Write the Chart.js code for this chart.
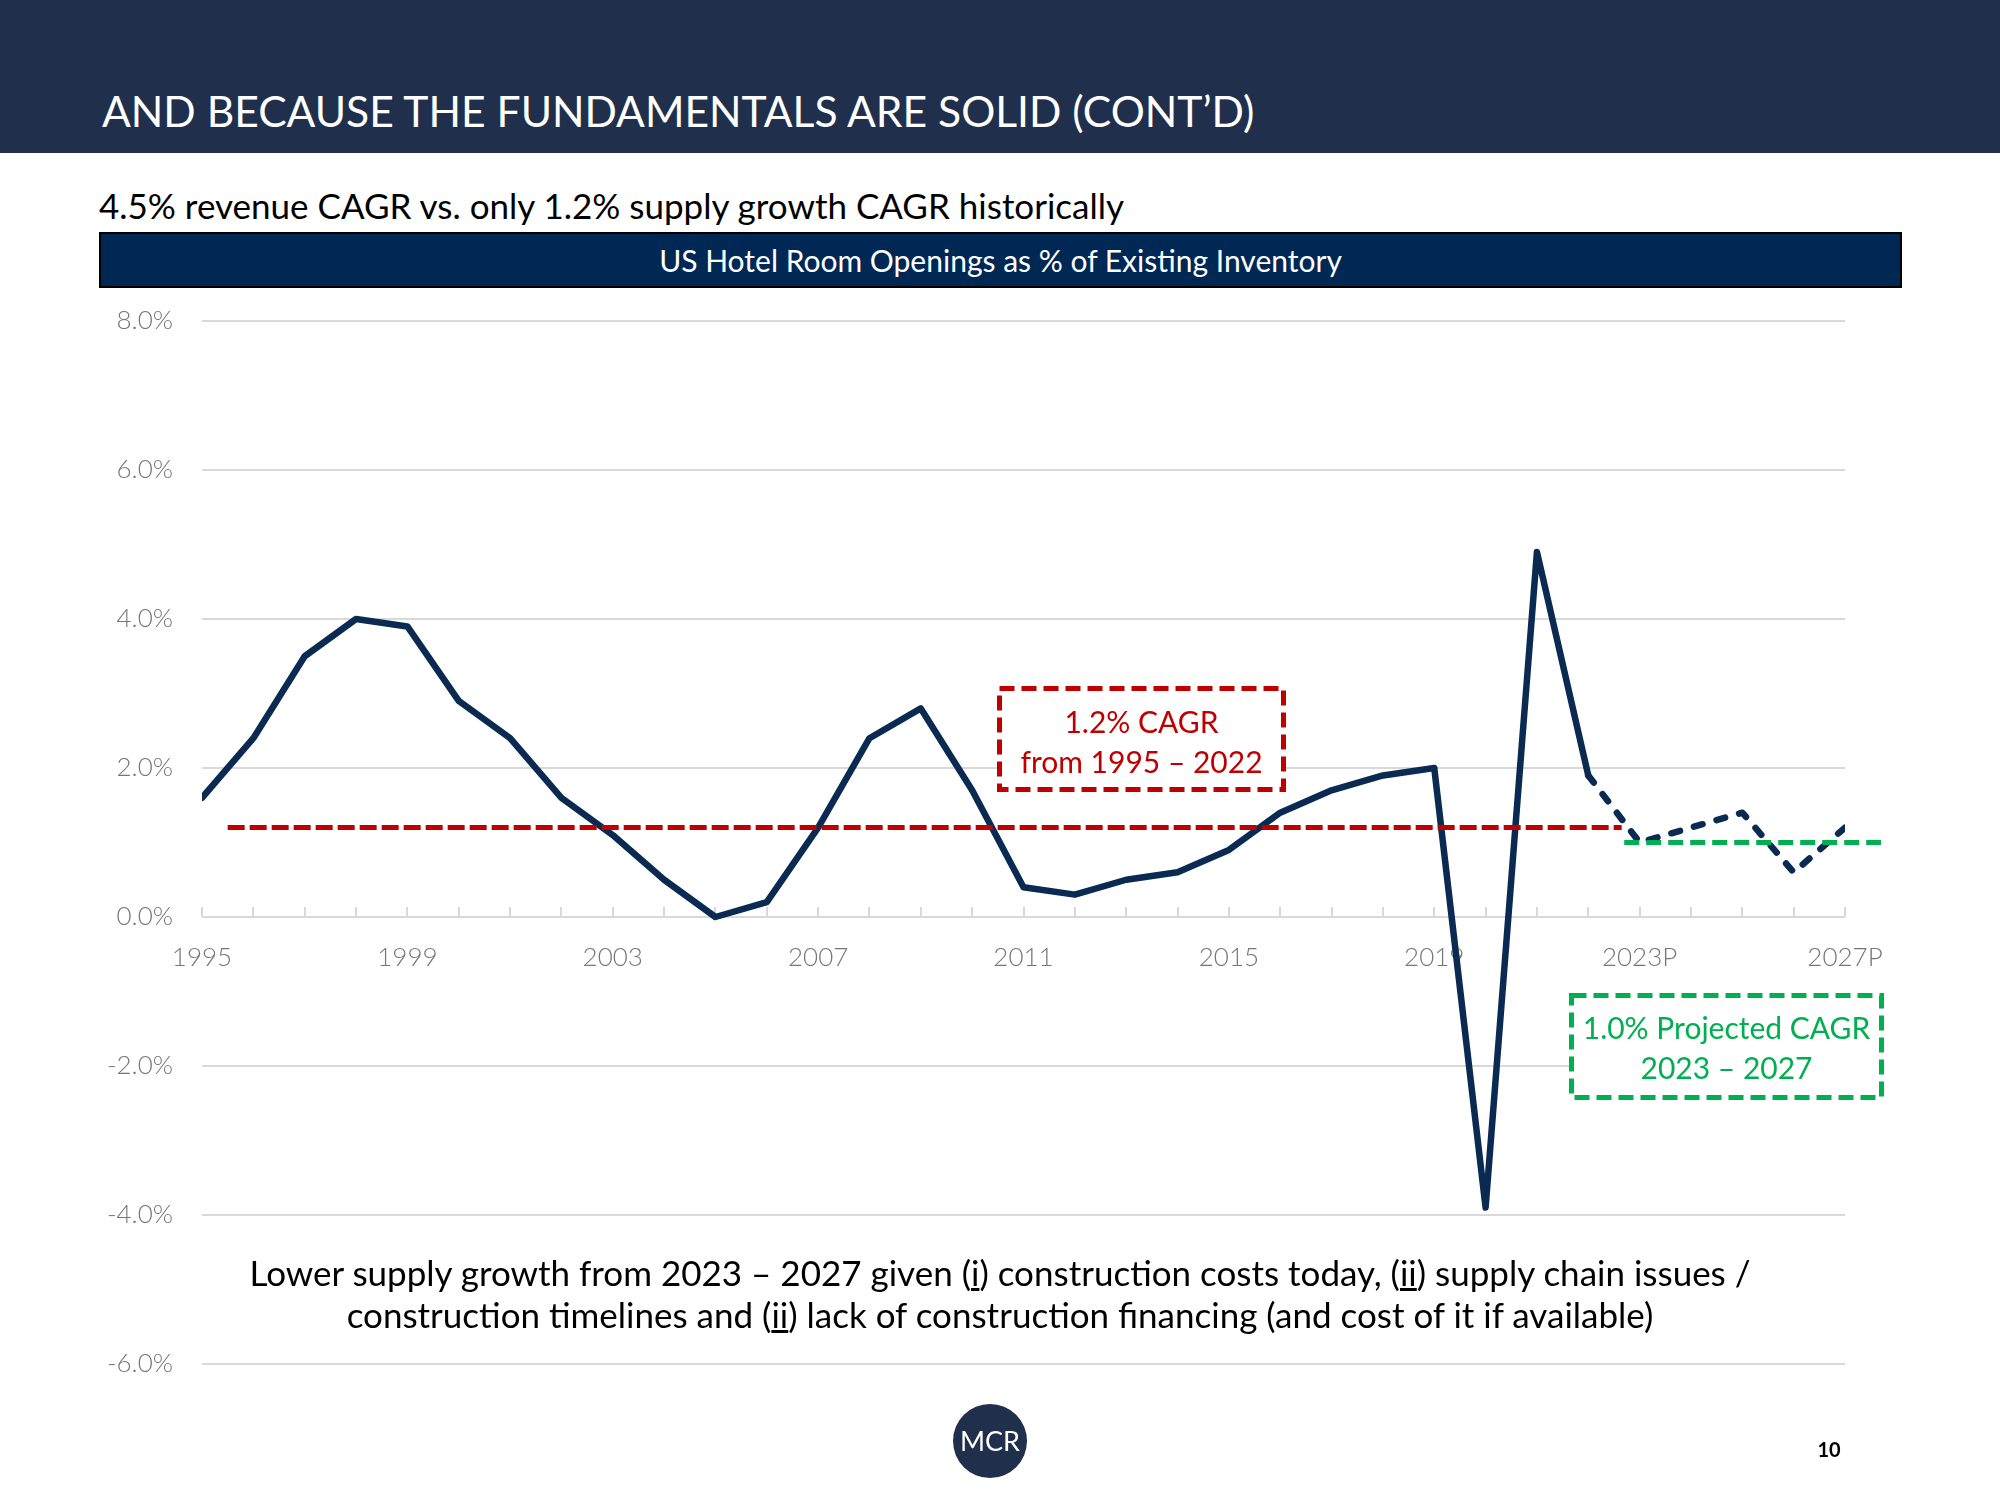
<!DOCTYPE html>
<html>
<head>
<meta charset="utf-8">
<script src="https://cdn.jsdelivr.net/npm/chart.js@4.4.0/dist/chart.umd.min.js"></script>
<style>
  body { margin: 0; width: 2000px; height: 1500px; position: relative; overflow: hidden; background: #fff; font-family: Lato, 'Open Sans', sans-serif; }
  #header { position: absolute; left: 0; top: 0; width: 2000px; height: 153px; background: #1f2f4c; }
  #title { position: absolute; left: 102px; top: 81px; line-height: 60px; font-size: 42.6px; color: #fff; white-space: nowrap; }
  #subtitle { position: absolute; left: 99px; top: 180px; line-height: 50px; font-size: 35px; color: #000; white-space: nowrap; }
  #chartTitle { position: absolute; left: 99px; top: 232px; width: 1803px; height: 56px; box-sizing: border-box; background: #002855; border: 2px solid #000; color: #fff; font-size: 30px; line-height: 52px; text-align: center; }
  canvas { position: absolute; left: 0; top: 0; }
  #boxes { position: absolute; left: 0; top: 0; }
  .note { position: absolute; text-align: center; font-size: 30px; line-height: 40px; white-space: nowrap; }
  #bottomNote { position: absolute; left: 0; width: 2000px; top: 1251px; text-align: center; font-size: 35px; line-height: 42px; color: #000; }
  #logo { position: absolute; left: 953px; top: 1404px; width: 74px; height: 74px; border-radius: 50%; background: #1f2f4c; color: #fff; font-size: 27px; line-height: 74px; text-align: center; }
  #page { position: absolute; left: 1812px; top: 1436px; width: 34px; text-align: center; font-size: 20px; font-weight: bold; line-height: 26px; }
</style>
</head>
<body>
<div id="header"></div>
<div id="title">AND BECAUSE THE FUNDAMENTALS ARE SOLID (CONT’D)</div>
<div id="subtitle">4.5% revenue CAGR vs. only 1.2% supply growth CAGR historically</div>
<div id="chartTitle">US Hotel Room Openings as % of Existing Inventory</div>

<canvas id="grafico" width="2000" height="1500"></canvas>

<svg id="boxes" width="2000" height="1500">
  <rect x="999.5" y="688.5" width="284" height="101" fill="#fff" stroke="#c00000" stroke-width="5" stroke-dasharray="15 7"/>
  <rect x="1571.5" y="995.5" width="310" height="102" fill="#fff" stroke="#00b050" stroke-width="5" stroke-dasharray="15 7"/>
</svg>
<div class="note" style="left:997px; width:289px; top:701px; color:#c00000;">1.2% CAGR<br>from 1995 – 2022</div>
<div class="note" style="left:1569px; width:315px; top:1007px; color:#00b050;">1.0% Projected CAGR<br>2023 – 2027</div>

<div id="bottomNote">Lower supply growth from 2023 – 2027 given (<u>i</u>) construction costs today, (<u>ii</u>) supply chain issues /<br>construction timelines and (<u>ii</u>) lack of construction financing (and cost of it if available)</div>
<div id="logo">MCR</div>
<div id="page">10</div>

<script>
const years = ['1995','1996','1997','1998','1999','2000','2001','2002','2003','2004','2005',
  '2006','2007','2008','2009','2010','2011','2012','2013','2014','2015','2016','2017','2018',
  '2019','2020','2021','2022','2023P','2024P','2025P','2026P','2027P'];
const supplyGrowth = [1.6, 2.4, 3.5, 4.0, 3.9, 2.9, 2.4, 1.6, 1.1, 0.5, 0.0,
  0.2, 1.2, 2.4, 2.8, 1.7, 0.4, 0.3, 0.5, 0.6, 0.9, 1.4, 1.7, 1.9,
  2.0, -3.9, 4.9, 1.9, 1.0, 1.2, 1.4, 0.6, 1.2];
const lastActual = 27; // 2022, projections after it are dashed

const historicCagr = 1.2;
const historicSpan = [1995.5, 2022.65];
const projectedCagr = 1.0;
const projectedSpan = [2022.7, 2027.7];

const yMin = -6, yMax = 8, yStep = 2;

const firstYear = 1995;
const spanPoints = (span, v) => span.map(y => ({ x: y - firstYear, y: v }));

const ctx = document.getElementById('grafico');
new Chart(ctx, {
  type: 'line',
  data: {
    datasets: [
      {
        data: spanPoints(historicSpan, historicCagr),
        borderColor: '#c00000',
        borderWidth: 5,
        borderDash: [17, 5],
        pointRadius: 0
      },
      {
        data: spanPoints(projectedSpan, projectedCagr),
        borderColor: '#00b050',
        borderWidth: 5,
        borderDash: [15, 7],
        pointRadius: 0,
        clip: false
      },
      {
        data: supplyGrowth.map((v, i) => ({ x: i, y: v })),
        borderColor: '#0b2a52',
        borderWidth: 6.5,
        borderJoinStyle: 'round',
        borderCapStyle: 'round',
        pointRadius: 0,
        tension: 0,
        segment: {
          borderDash: c => c.p0DataIndex >= lastActual ? [9, 14.5] : undefined
        }
      }
    ]
  },
  options: {
    responsive: false,
    animation: false,
    layout: { padding: { left: 0, top: 321, right: 155, bottom: 136 } },
    plugins: { legend: { display: false }, tooltip: { enabled: false } },
    scales: {
      x: {
        type: 'linear',
        position: { y: 0 },
        min: 0,
        max: years.length - 1,
        grid: { display: true, drawOnChartArea: false, drawTicks: true, tickLength: -10, color: '#d9d9d9', lineWidth: 2 },
        border: { display: false },
        ticks: {
          stepSize: 1,
          autoSkip: false,
          maxRotation: 0,
          padding: 35,
          color: '#767676',
          font: { family: 'Lato', size: 26, weight: 300 },
          callback: v => v % 4 === 0 ? years[v] : ''
        }
      },
      y: {
        min: yMin,
        max: yMax,
        afterFit: s => { s.width = 202; },
        grid: { color: '#d9d9d9', lineWidth: 2, drawTicks: false },
        border: { display: false },
        ticks: {
          stepSize: yStep,
          padding: 29,
          color: '#767676',
          font: { family: 'Lato', size: 26, weight: 300 },
          callback: v => v.toFixed(1) + '%'
        }
      }
    }
  }
});
</script>
</body>
</html>
